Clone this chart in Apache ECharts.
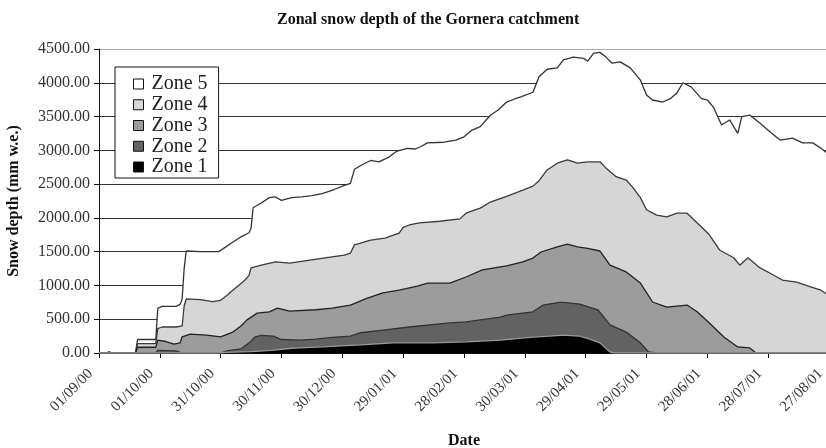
<!DOCTYPE html>
<html>
<head>
<meta charset="utf-8">
<script src="https://cdn.jsdelivr.net/npm/echarts@6/dist/echarts.min.js"></script>
<style>
  html, body { margin: 0; padding: 0; background: #fff; }
  #chart { width: 826px; height: 448px; }
</style>
</head>
<body>
<div id="chart"></div>
<script>
// days after 01/09/00, cumulative snow depth (mm w.e.) read at the top of each zone band
const zone5 = [[0,0],[4,0],[5,20],[6,0],[18,0],[19,200],[28,200],[29,660],[31,690],[38,690],[40,720],[41,800],[42,1250],[43,1510],[50,1500],[59,1500],[62,1560],[65,1620],[70,1720],[74,1780],[75,1850],[76,2150],[80,2220],[84,2300],[87,2310],[90,2260],[95,2300],[100,2310],[105,2330],[110,2360],[116,2420],[121,2480],[124,2510],[126,2720],[130,2790],[134,2850],[138,2830],[143,2900],[147,2990],[152,3030],[156,3020],[159,3060],[162,3110],[170,3120],[176,3150],[180,3200],[184,3300],[188,3350],[193,3520],[197,3600],[201,3715],[205,3760],[208,3790],[214,3860],[217,4090],[221,4200],[226,4220],[229,4340],[234,4380],[239,4360],[241,4320],[244,4440],[247,4450],[250,4380],[253,4290],[257,4310],[262,4220],[267,4040],[270,3820],[273,3745],[278,3715],[282,3770],[285,3850],[288,4000],[292,3940],[297,3770],[300,3745],[303,3640],[307,3375],[311,3450],[315,3250],[317,3500],[321,3520],[326,3400],[331,3270],[336,3150],[342,3180],[347,3110],[352,3110],[356,3030],[360,2940]];
const zone4 = [[0,0],[18,0],[19,140],[28,140],[29,360],[31,385],[38,385],[41,400],[42,700],[43,800],[50,790],[56,760],[60,780],[63,850],[66,930],[70,1030],[72,1080],[74,1150],[75,1260],[80,1300],[87,1350],[94,1330],[104,1375],[114,1420],[121,1450],[124,1480],[126,1600],[134,1670],[141,1700],[148,1775],[150,1860],[153,1895],[158,1925],[168,1950],[178,1985],[181,2070],[188,2145],[193,2235],[201,2320],[209,2410],[214,2470],[217,2550],[221,2710],[226,2810],[231,2860],[236,2810],[241,2830],[247,2830],[250,2740],[255,2610],[260,2560],[263,2460],[267,2300],[270,2120],[275,2040],[280,2015],[285,2070],[290,2070],[297,1870],[301,1750],[306,1525],[313,1410],[316,1300],[320,1410],[326,1260],[331,1180],[337,1080],[344,1050],[351,980],[356,930],[360,850]];
const zone3 = [[0,0],[18,0],[19,85],[28,85],[29,190],[33,170],[37,130],[40,150],[41,240],[45,280],[53,265],[60,240],[66,310],[70,400],[73,490],[78,590],[84,610],[88,665],[94,620],[107,640],[115,665],[124,710],[132,810],[140,890],[148,930],[157,990],[162,1035],[173,1035],[181,1125],[189,1230],[201,1290],[209,1350],[214,1405],[218,1495],[226,1570],[231,1610],[236,1570],[241,1550],[247,1510],[252,1300],[260,1200],[267,1035],[273,755],[280,680],[290,710],[295,610],[301,445],[308,240],[315,90],[321,75],[324,0],[360,0]];
const zone2 = [[0,0],[28,0],[29,40],[38,30],[41,0],[60,0],[63,30],[70,60],[74,150],[77,240],[80,260],[86,250],[90,200],[99,190],[107,205],[115,230],[124,250],[129,300],[140,340],[153,385],[173,445],[181,460],[188,490],[198,530],[201,560],[214,610],[219,710],[227,750],[229,750],[237,725],[246,640],[252,415],[260,310],[267,150],[271,15],[275,0],[360,0]];
const zone1 = [[0,0],[60,0],[62,10],[75,20],[85,40],[95,70],[99,75],[110,90],[129,120],[145,150],[165,150],[181,165],[198,190],[214,235],[222,250],[229,265],[237,250],[242,205],[247,150],[252,15],[254,0],[360,0]];

const zoneNames = ['Zone 5', 'Zone 4', 'Zone 3', 'Zone 2', 'Zone 1'];
const zoneData = [zone5, zone4, zone3, zone2, zone1];
const zoneFill = ['#ffffff', '#d6d6d6', '#9c9c9c', '#626262', '#000000'];
const zoneEdge = ['#333333', '#3a3a3a', '#222222', '#333333', '#9a9a9a'];

const serif = "'Liberation Serif', 'DejaVu Serif', serif";
const startDay = Date.UTC(2000, 8, 1);
const pad = n => (n < 10 ? '0' : '') + n;
const dayLabel = function (day) {
    const d = new Date(startDay + day * 86400000);
    return pad(d.getUTCDate()) + '/' + pad(d.getUTCMonth() + 1) + '/' + pad(d.getUTCFullYear() % 100);
};

const gridColors = ['#333', '#333', '#333', '#333', '#333', '#333', '#333', '#333', '#333', '#a8a8a8'];

const chart = echarts.init(document.getElementById('chart'));

const series = zoneData.map((data, i) => ({
    type: 'line',
    name: zoneNames[i],
    data: data,
    symbol: 'none',
    color: zoneFill[i],
    itemStyle: { color: zoneFill[i] },
    lineStyle: { color: zoneEdge[i], width: 1.3 },
    areaStyle: { color: zoneFill[i], opacity: 1, origin: 'start' },
    emphasis: { disabled: true },
    silent: true,
}));

chart.setOption({
    animation: false,
    backgroundColor: '#fff',
    title: {
        text: 'Zonal snow depth of the Gornera catchment',
        left: 272,
        top: 7,
        textStyle: { fontFamily: serif, fontWeight: 'bold', fontSize: 16, color: '#111' }
    },
    legend: {
        orient: 'vertical',
        left: 115,
        top: 67,
        padding: [7, 11, 1, 18],
        itemGap: 0.75,
        itemWidth: 10,
        itemHeight: 10,
        backgroundColor: '#fff',
        borderColor: '#111',
        borderWidth: 1,
        selectedMode: false,
        textStyle: { fontFamily: serif, fontSize: 20, lineHeight: 20, color: '#222', padding: [0, 0, 0, 3] },
        data: zoneNames.map((n, i) => ({
            name: n,
            icon: 'rect',
            itemStyle: { color: zoneFill[i], borderColor: '#111', borderWidth: 1 }
        }))
    },
    grid: {
        left: 99,
        right: -3,
        top: 49,
        bottom: 95,
        outerBoundsMode: 'none'
    },
    xAxis: {
        type: 'value',
        min: 0,
        max: 360,
        interval: 30,
        name: 'Date',
        nameLocation: 'middle',
        nameGap: 80,
        nameTextStyle: { fontFamily: serif, fontWeight: 'bold', fontSize: 16, color: '#111' },
        axisLine: { show: true, lineStyle: { color: '#111', width: 1 } },
        axisTick: { show: true, length: 5, lineStyle: { color: '#111' } },
        axisLabel: {
            rotate: 45,
            margin: 10,
            padding: [0, 12, 0, 0],
            fontFamily: serif,
            fontSize: 15,
            color: '#333',
            formatter: dayLabel
        },
        splitLine: { show: false }
    },
    yAxis: {
        type: 'value',
        min: 0,
        max: 4500,
        interval: 500,
        name: 'Snow depth (mm w.e.)',
        nameLocation: 'middle',
        nameGap: 77,
        nameTextStyle: { fontFamily: serif, fontWeight: 'bold', fontSize: 16, color: '#111' },
        axisLine: { show: true, lineStyle: { color: '#111', width: 1 } },
        axisTick: { show: true, length: 5, lineStyle: { color: '#111' } },
        axisLabel: {
            margin: 9,
            fontFamily: serif,
            fontSize: 16,
            color: '#333',
            formatter: v => v.toFixed(2)
        },
        splitLine: { show: true, lineStyle: { color: gridColors, width: 1 } }
    },
    series: series
});
</script>
</body>
</html>
